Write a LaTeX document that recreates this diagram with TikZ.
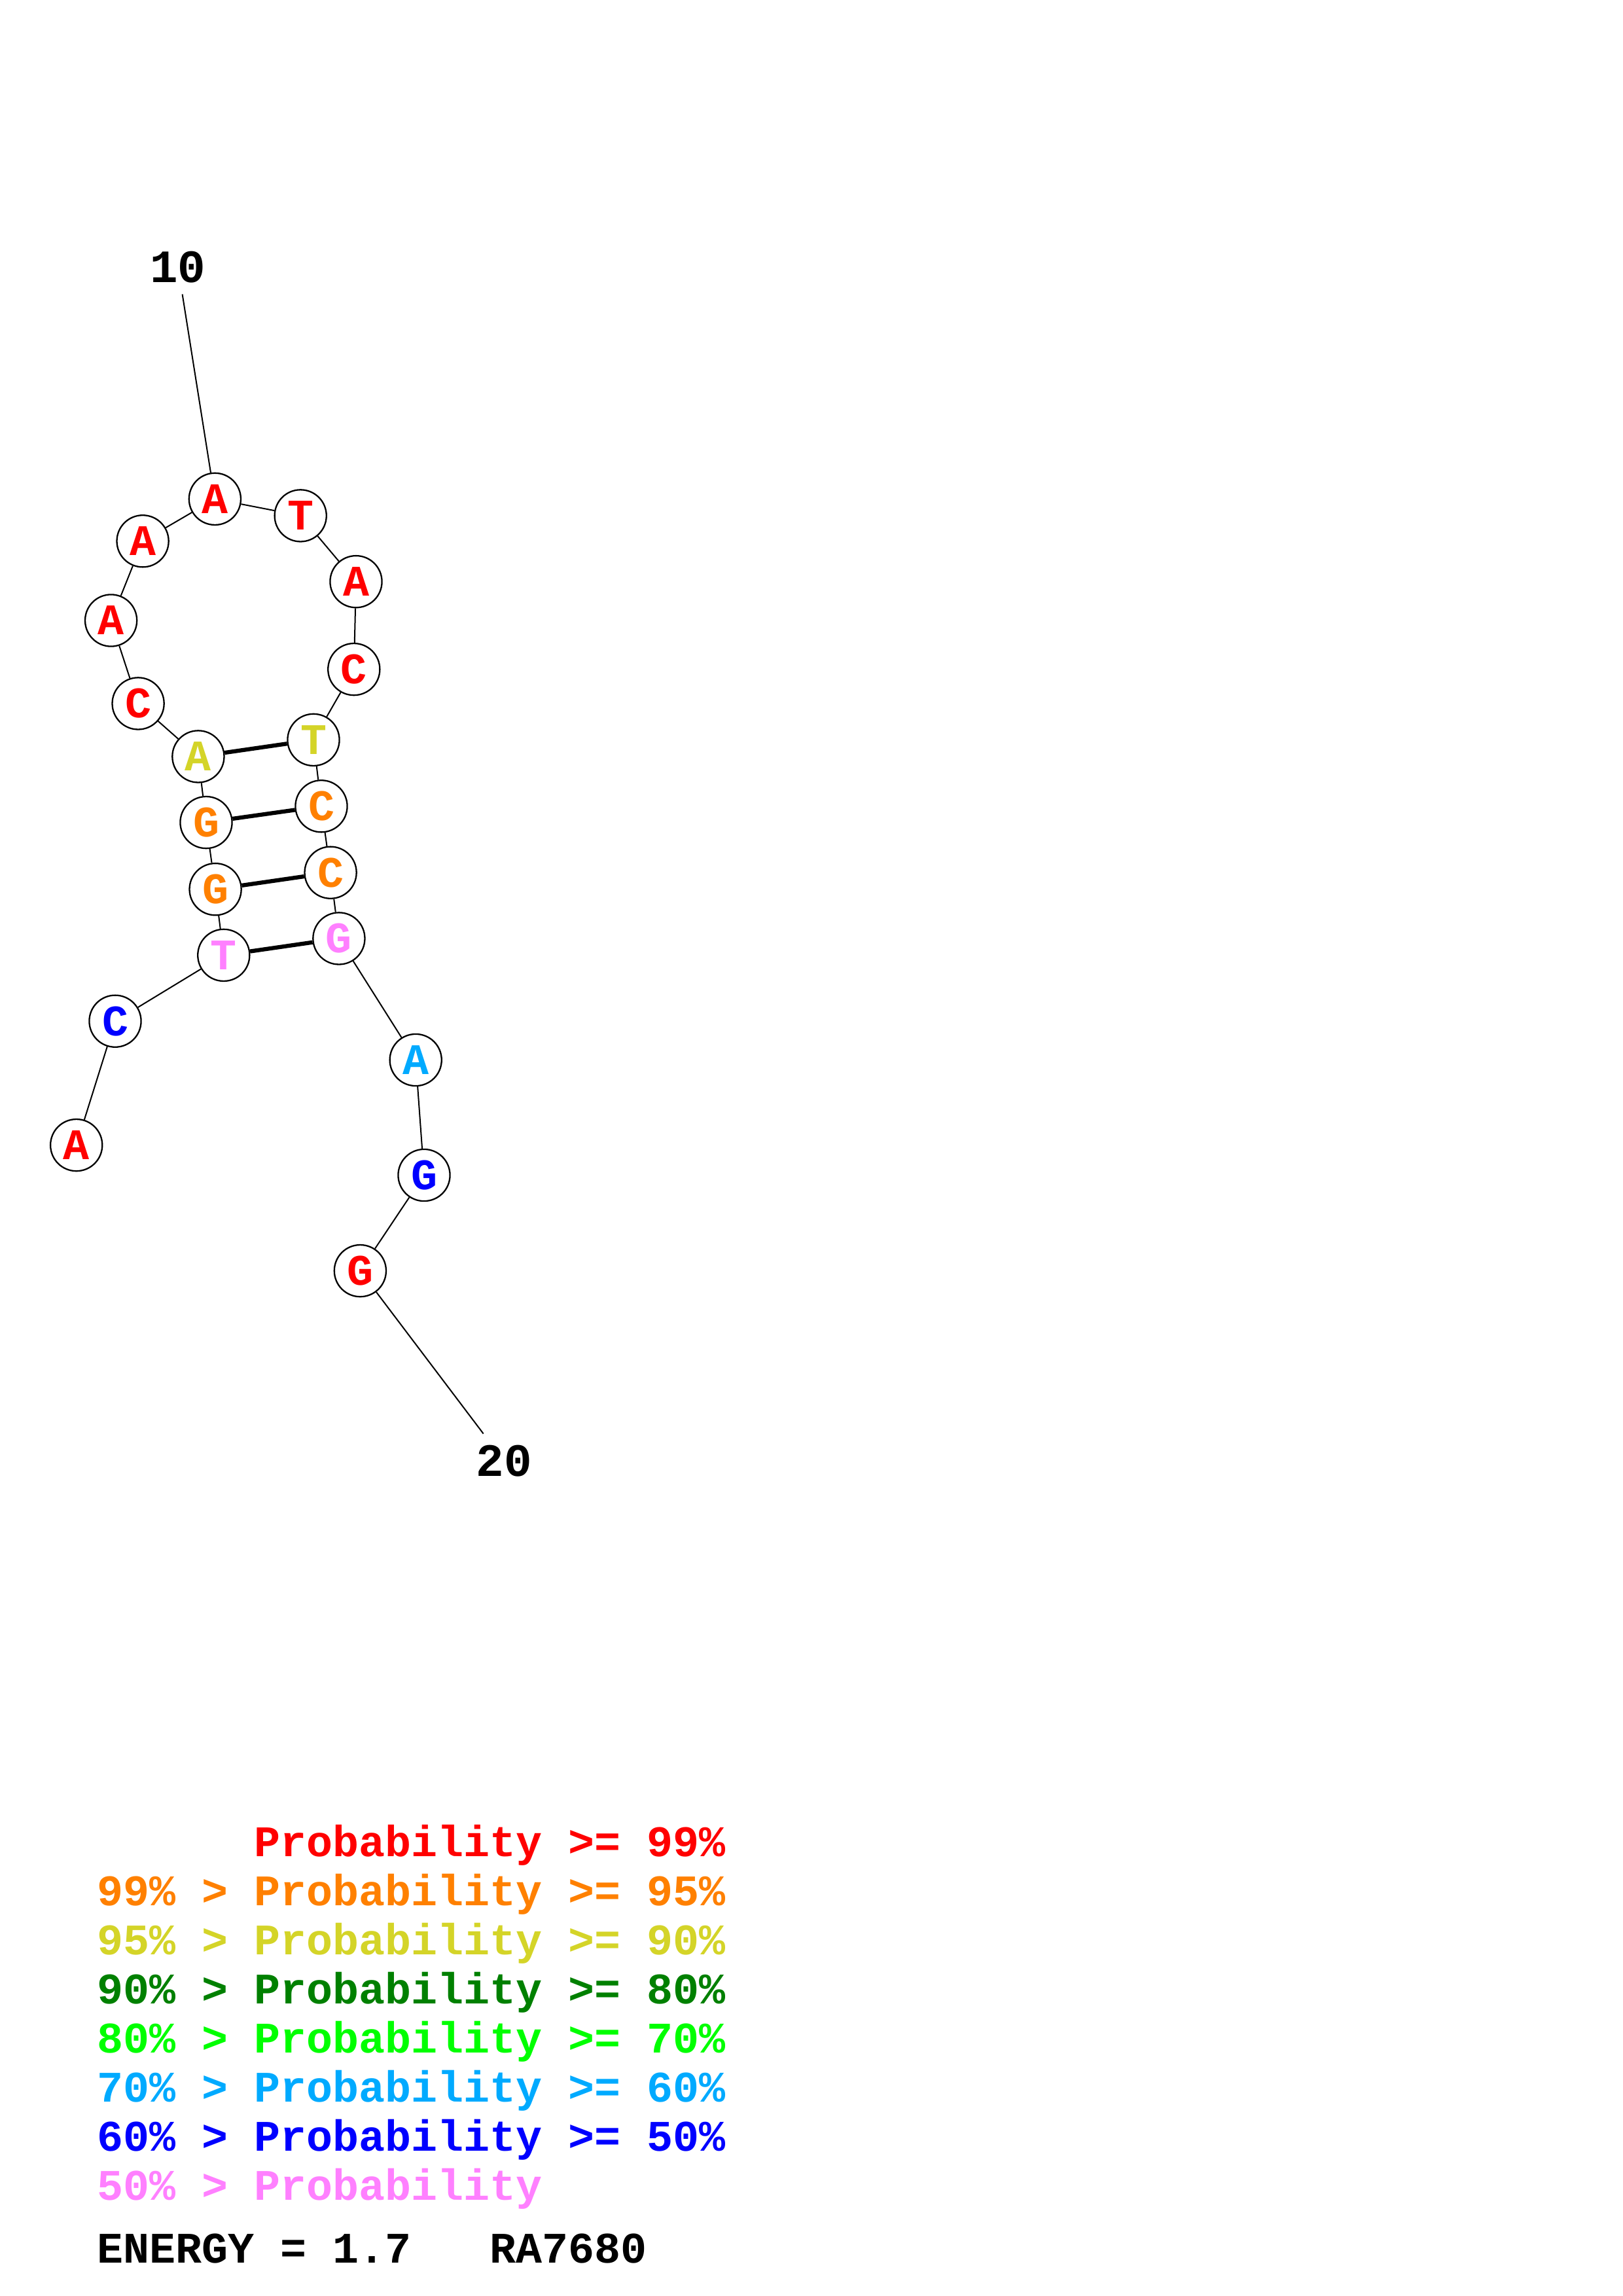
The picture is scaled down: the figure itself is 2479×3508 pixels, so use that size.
\documentclass[tikz,border=0pt]{standalone}
\usepackage{fontspec}
\setmonofont{Liberation Mono}
\usepackage{tikz}
\definecolor{pr99}{RGB}{255,0,0}
\definecolor{pr95}{RGB}{255,128,0}
\definecolor{pr90}{RGB}{212,212,40}
\definecolor{pr80}{RGB}{0,128,0}
\definecolor{pr70}{RGB}{0,255,0}
\definecolor{pr60}{RGB}{0,170,255}
\definecolor{pr50}{RGB}{0,0,255}
\definecolor{pr00}{RGB}{255,128,255}
\def\bbone{\draw[line width=0.48pt]}
\def\bpair{\draw[line width=1.5pt]}
\def\legline{\node[anchor=base west,inner sep=0pt,font=\ttfamily\bfseries\fontsize{16}{16}\selectfont]}

\begin{document}
\begin{tikzpicture}[x=0.24pt,y=-0.24pt,
    base/.style={circle,draw,fill=white,line width=0.55pt,minimum size=19pt,inner sep=0pt,
      font=\ttfamily\bfseries\fontsize{16}{16}\selectfont},
    num/.style={inner sep=4pt,font=\ttfamily\bfseries\fontsize{17}{17}\selectfont}]
                \useasboundingbox (0,0) rectangle (2479,3508);
                % bases, 5' to 3'
                \node[base,text=pr99] (b1)  at (116.7,1749.6) {A};
                \node[base,text=pr50] (b2)  at (176.0,1560.2) {C};
                \node[base,text=pr00] (b3)  at (341.8,1459.4) {T};
                \node[base,text=pr95] (b4)  at (329.1,1358.7) {G};
                \node[base,text=pr95] (b5)  at (315.0,1256.6) {G};
                \node[base,text=pr90] (b6)  at (302.9,1155.9) {A};
                \node[base,text=pr99] (b7)  at (211.1,1074.9) {C};
                \node[base,text=pr99] (b8)  at (169.6, 948.0) {A};
                \node[base,text=pr99] (b9)  at (218.1, 826.8) {A};
                \node[base,text=pr99] (b10) at (328.4, 762.4) {A};
                \node[base,text=pr99] (b11) at (459.2, 787.9) {T};
                \node[base,text=pr99] (b12) at (544.0, 888.7) {A};
                \node[base,text=pr99] (b13) at (540.8,1022.6) {C};
                \node[base,text=pr90] (b14) at (479.0,1130.4) {T};
                \node[base,text=pr95] (b15) at (491.0,1231.8) {C};
                \node[base,text=pr95] (b16) at (505.1,1333.2) {C};
                \node[base,text=pr00] (b17) at (517.9,1433.9) {G};
                \node[base,text=pr60] (b18) at (635.2,1619.5) {A};
                \node[base,text=pr50] (b19) at (648.0,1795.5) {G};
                \node[base,text=pr99] (b20) at (550.4,1941.6) {G};
                \node[num] (l10) at (272,408) {10};
                \node[num] (l20) at (770,2232) {20};
                % backbone
                \bbone (b1) -- (b2) -- (b3) -- (b4) -- (b5) -- (b6) -- (b7) -- (b8) -- (b9) -- (b10);
                \bbone (b10) -- (b11) -- (b12) -- (b13) -- (b14) -- (b15) -- (b16) -- (b17) -- (b18) -- (b19) -- (b20);
                \bbone (l10) -- (b10);
                \bbone (b20) -- (l20);
                % pairs
                \bpair (b6) -- (b14);
                \bpair (b5) -- (b15);
                \bpair (b4) -- (b16);
                \bpair (b3) -- (b17);
                % legend
                \legline[text=pr99] (p99) at (148,2836) {\phantom{99\% > }Probability >= 99\%};
                \legline[text=pr95] (p95) at (148,2911) {99\% > Probability >= 95\%};
                \legline[text=pr90] (p90) at (148,2986) {95\% > Probability >= 90\%};
                \legline[text=pr80] (p80) at (148,3061) {90\% > Probability >= 80\%};
                \legline[text=pr70] (p70) at (148,3136) {80\% > Probability >= 70\%};
                \legline[text=pr60] (p60) at (148,3211) {70\% > Probability >= 60\%};
                \legline[text=pr50] (p50) at (148,3286) {60\% > Probability >= 50\%};
                \legline[text=pr00] (p00) at (148,3361) {50\% > Probability};
                \legline (energy) at (148,3457) {ENERGY = 1.7\ \ \ RA7680};
            \end{tikzpicture}
\end{document}
